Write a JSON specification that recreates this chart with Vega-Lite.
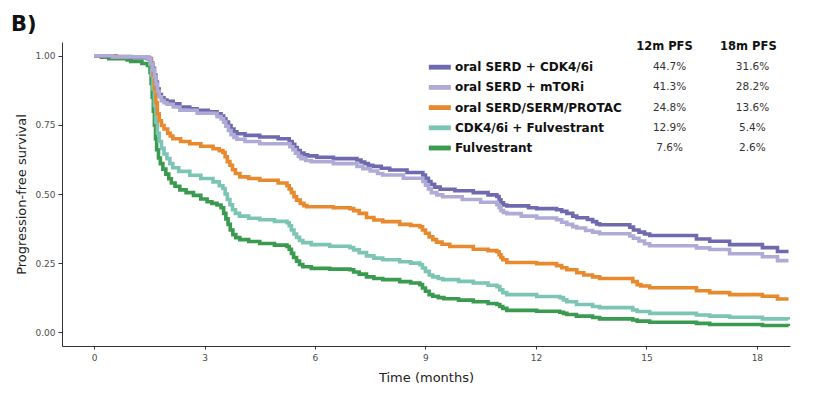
{
  "$schema": "https://vega.github.io/schema/vega-lite/v6.json",
  "autosize": "none",
  "width": 728,
  "height": 304,
  "padding": {"left": 62, "top": 42, "right": 31, "bottom": 49},
  "title": {"text": "B)", "anchor": "start", "frame": "bounds", "fontSize": 21, "fontWeight": "bold", "font": "DejaVu Sans", "color": "#111", "offset": 6, "dx": -5},
  "config": {
    "view": {"stroke": null},
    "font": "DejaVu Sans",
    "axis": {"grid": false, "domainColor": "#333", "tickColor": "#333", "labelColor": "#4d4d4d", "labelFontSize": 9, "titleFontSize": 13, "titleFontWeight": "normal", "titleColor": "#222", "labelFont": "DejaVu Sans", "titleFont": "DejaVu Sans"}
  },
  "datasets": {
    "km": [
      {"g":"Fulvestrant","t":0,"s":1.0},{"g":"Fulvestrant","t":0.2,"s":0.995},{"g":"Fulvestrant","t":0.4,"s":0.99},{"g":"Fulvestrant","t":0.9,"s":0.985},{"g":"Fulvestrant","t":1.0,"s":0.98},{"g":"Fulvestrant","t":1.3,"s":0.972},{"g":"Fulvestrant","t":1.45,"s":0.965},{"g":"Fulvestrant","t":1.52,"s":0.94},{"g":"Fulvestrant","t":1.55,"s":0.9},{"g":"Fulvestrant","t":1.58,"s":0.85},{"g":"Fulvestrant","t":1.61,"s":0.8},{"g":"Fulvestrant","t":1.64,"s":0.75},{"g":"Fulvestrant","t":1.67,"s":0.7},{"g":"Fulvestrant","t":1.7,"s":0.66},{"g":"Fulvestrant","t":1.75,"s":0.63},{"g":"Fulvestrant","t":1.8,"s":0.61},{"g":"Fulvestrant","t":1.87,"s":0.59},{"g":"Fulvestrant","t":1.95,"s":0.572},{"g":"Fulvestrant","t":2.03,"s":0.555},{"g":"Fulvestrant","t":2.1,"s":0.54},{"g":"Fulvestrant","t":2.2,"s":0.528},{"g":"Fulvestrant","t":2.33,"s":0.515},{"g":"Fulvestrant","t":2.5,"s":0.505},{"g":"Fulvestrant","t":2.7,"s":0.495},{"g":"Fulvestrant","t":2.9,"s":0.482},{"g":"Fulvestrant","t":3.07,"s":0.472},{"g":"Fulvestrant","t":3.2,"s":0.466},{"g":"Fulvestrant","t":3.34,"s":0.46},{"g":"Fulvestrant","t":3.45,"s":0.45},{"g":"Fulvestrant","t":3.52,"s":0.43},{"g":"Fulvestrant","t":3.58,"s":0.41},{"g":"Fulvestrant","t":3.64,"s":0.39},{"g":"Fulvestrant","t":3.7,"s":0.37},{"g":"Fulvestrant","t":3.77,"s":0.353},{"g":"Fulvestrant","t":3.85,"s":0.342},{"g":"Fulvestrant","t":3.96,"s":0.335},{"g":"Fulvestrant","t":4.2,"s":0.328},{"g":"Fulvestrant","t":4.5,"s":0.321},{"g":"Fulvestrant","t":4.9,"s":0.315},{"g":"Fulvestrant","t":5.24,"s":0.31},{"g":"Fulvestrant","t":5.3,"s":0.3},{"g":"Fulvestrant","t":5.36,"s":0.285},{"g":"Fulvestrant","t":5.42,"s":0.27},{"g":"Fulvestrant","t":5.5,"s":0.257},{"g":"Fulvestrant","t":5.58,"s":0.245},{"g":"Fulvestrant","t":5.67,"s":0.237},{"g":"Fulvestrant","t":5.9,"s":0.231},{"g":"Fulvestrant","t":6.4,"s":0.228},{"g":"Fulvestrant","t":6.95,"s":0.226},{"g":"Fulvestrant","t":7.05,"s":0.218},{"g":"Fulvestrant","t":7.2,"s":0.21},{"g":"Fulvestrant","t":7.4,"s":0.2},{"g":"Fulvestrant","t":7.6,"s":0.194},{"g":"Fulvestrant","t":7.84,"s":0.19},{"g":"Fulvestrant","t":8.3,"s":0.183},{"g":"Fulvestrant","t":8.6,"s":0.178},{"g":"Fulvestrant","t":8.85,"s":0.172},{"g":"Fulvestrant","t":8.92,"s":0.16},{"g":"Fulvestrant","t":9.0,"s":0.148},{"g":"Fulvestrant","t":9.1,"s":0.136},{"g":"Fulvestrant","t":9.2,"s":0.13},{"g":"Fulvestrant","t":9.35,"s":0.125},{"g":"Fulvestrant","t":9.5,"s":0.121},{"g":"Fulvestrant","t":9.9,"s":0.116},{"g":"Fulvestrant","t":10.3,"s":0.11},{"g":"Fulvestrant","t":10.7,"s":0.104},{"g":"Fulvestrant","t":10.94,"s":0.1},{"g":"Fulvestrant","t":11.02,"s":0.093},{"g":"Fulvestrant","t":11.1,"s":0.086},{"g":"Fulvestrant","t":11.21,"s":0.079},{"g":"Fulvestrant","t":12.02,"s":0.076},{"g":"Fulvestrant","t":12.65,"s":0.072},{"g":"Fulvestrant","t":12.75,"s":0.068},{"g":"Fulvestrant","t":12.84,"s":0.064},{"g":"Fulvestrant","t":13.1,"s":0.058},{"g":"Fulvestrant","t":13.54,"s":0.053},{"g":"Fulvestrant","t":13.73,"s":0.048},{"g":"Fulvestrant","t":14.63,"s":0.044},{"g":"Fulvestrant","t":14.75,"s":0.04},{"g":"Fulvestrant","t":15.09,"s":0.036},{"g":"Fulvestrant","t":16.36,"s":0.032},{"g":"Fulvestrant","t":16.72,"s":0.028},{"g":"Fulvestrant","t":18.15,"s":0.024},{"g":"Fulvestrant","t":18.86,"s":0.022},
      {"g":"CDK4/6i + Fulvestrant","t":0,"s":1.0},{"g":"CDK4/6i + Fulvestrant","t":0.5,"s":0.995},{"g":"CDK4/6i + Fulvestrant","t":1.45,"s":0.99},{"g":"CDK4/6i + Fulvestrant","t":1.52,"s":0.97},{"g":"CDK4/6i + Fulvestrant","t":1.56,"s":0.93},{"g":"CDK4/6i + Fulvestrant","t":1.6,"s":0.88},{"g":"CDK4/6i + Fulvestrant","t":1.64,"s":0.82},{"g":"CDK4/6i + Fulvestrant","t":1.68,"s":0.76},{"g":"CDK4/6i + Fulvestrant","t":1.72,"s":0.72},{"g":"CDK4/6i + Fulvestrant","t":1.77,"s":0.69},{"g":"CDK4/6i + Fulvestrant","t":1.83,"s":0.665},{"g":"CDK4/6i + Fulvestrant","t":1.9,"s":0.645},{"g":"CDK4/6i + Fulvestrant","t":1.98,"s":0.628},{"g":"CDK4/6i + Fulvestrant","t":2.06,"s":0.61},{"g":"CDK4/6i + Fulvestrant","t":2.14,"s":0.595},{"g":"CDK4/6i + Fulvestrant","t":2.3,"s":0.582},{"g":"CDK4/6i + Fulvestrant","t":2.6,"s":0.568},{"g":"CDK4/6i + Fulvestrant","t":2.9,"s":0.556},{"g":"CDK4/6i + Fulvestrant","t":3.23,"s":0.544},{"g":"CDK4/6i + Fulvestrant","t":3.4,"s":0.53},{"g":"CDK4/6i + Fulvestrant","t":3.5,"s":0.52},{"g":"CDK4/6i + Fulvestrant","t":3.56,"s":0.5},{"g":"CDK4/6i + Fulvestrant","t":3.62,"s":0.48},{"g":"CDK4/6i + Fulvestrant","t":3.69,"s":0.461},{"g":"CDK4/6i + Fulvestrant","t":3.76,"s":0.443},{"g":"CDK4/6i + Fulvestrant","t":3.84,"s":0.43},{"g":"CDK4/6i + Fulvestrant","t":3.95,"s":0.42},{"g":"CDK4/6i + Fulvestrant","t":4.2,"s":0.412},{"g":"CDK4/6i + Fulvestrant","t":4.5,"s":0.407},{"g":"CDK4/6i + Fulvestrant","t":4.9,"s":0.401},{"g":"CDK4/6i + Fulvestrant","t":5.24,"s":0.396},{"g":"CDK4/6i + Fulvestrant","t":5.3,"s":0.385},{"g":"CDK4/6i + Fulvestrant","t":5.36,"s":0.37},{"g":"CDK4/6i + Fulvestrant","t":5.43,"s":0.355},{"g":"CDK4/6i + Fulvestrant","t":5.5,"s":0.343},{"g":"CDK4/6i + Fulvestrant","t":5.58,"s":0.332},{"g":"CDK4/6i + Fulvestrant","t":5.67,"s":0.324},{"g":"CDK4/6i + Fulvestrant","t":5.9,"s":0.317},{"g":"CDK4/6i + Fulvestrant","t":6.4,"s":0.311},{"g":"CDK4/6i + Fulvestrant","t":6.95,"s":0.306},{"g":"CDK4/6i + Fulvestrant","t":7.05,"s":0.298},{"g":"CDK4/6i + Fulvestrant","t":7.2,"s":0.288},{"g":"CDK4/6i + Fulvestrant","t":7.4,"s":0.276},{"g":"CDK4/6i + Fulvestrant","t":7.6,"s":0.268},{"g":"CDK4/6i + Fulvestrant","t":7.84,"s":0.262},{"g":"CDK4/6i + Fulvestrant","t":8.3,"s":0.255},{"g":"CDK4/6i + Fulvestrant","t":8.6,"s":0.25},{"g":"CDK4/6i + Fulvestrant","t":8.85,"s":0.244},{"g":"CDK4/6i + Fulvestrant","t":8.92,"s":0.232},{"g":"CDK4/6i + Fulvestrant","t":9.0,"s":0.22},{"g":"CDK4/6i + Fulvestrant","t":9.1,"s":0.207},{"g":"CDK4/6i + Fulvestrant","t":9.2,"s":0.2},{"g":"CDK4/6i + Fulvestrant","t":9.35,"s":0.194},{"g":"CDK4/6i + Fulvestrant","t":9.47,"s":0.19},{"g":"CDK4/6i + Fulvestrant","t":9.9,"s":0.184},{"g":"CDK4/6i + Fulvestrant","t":10.3,"s":0.178},{"g":"CDK4/6i + Fulvestrant","t":10.7,"s":0.17},{"g":"CDK4/6i + Fulvestrant","t":10.94,"s":0.165},{"g":"CDK4/6i + Fulvestrant","t":11.02,"s":0.153},{"g":"CDK4/6i + Fulvestrant","t":11.1,"s":0.143},{"g":"CDK4/6i + Fulvestrant","t":11.21,"s":0.136},{"g":"CDK4/6i + Fulvestrant","t":12.02,"s":0.129},{"g":"CDK4/6i + Fulvestrant","t":12.65,"s":0.125},{"g":"CDK4/6i + Fulvestrant","t":12.75,"s":0.117},{"g":"CDK4/6i + Fulvestrant","t":12.84,"s":0.11},{"g":"CDK4/6i + Fulvestrant","t":13.1,"s":0.1},{"g":"CDK4/6i + Fulvestrant","t":13.54,"s":0.093},{"g":"CDK4/6i + Fulvestrant","t":13.73,"s":0.089},{"g":"CDK4/6i + Fulvestrant","t":14.63,"s":0.08},{"g":"CDK4/6i + Fulvestrant","t":14.75,"s":0.075},{"g":"CDK4/6i + Fulvestrant","t":15.09,"s":0.068},{"g":"CDK4/6i + Fulvestrant","t":16.36,"s":0.062},{"g":"CDK4/6i + Fulvestrant","t":16.72,"s":0.058},{"g":"CDK4/6i + Fulvestrant","t":17.26,"s":0.054},{"g":"CDK4/6i + Fulvestrant","t":18.15,"s":0.048},{"g":"CDK4/6i + Fulvestrant","t":18.86,"s":0.046},
      {"g":"oral SERD/SERM/PROTAC","t":0,"s":1.0},{"g":"oral SERD/SERM/PROTAC","t":0.6,"s":0.995},{"g":"oral SERD/SERM/PROTAC","t":1.5,"s":0.99},{"g":"oral SERD/SERM/PROTAC","t":1.56,"s":0.97},{"g":"oral SERD/SERM/PROTAC","t":1.6,"s":0.93},{"g":"oral SERD/SERM/PROTAC","t":1.64,"s":0.88},{"g":"oral SERD/SERM/PROTAC","t":1.68,"s":0.83},{"g":"oral SERD/SERM/PROTAC","t":1.72,"s":0.79},{"g":"oral SERD/SERM/PROTAC","t":1.77,"s":0.765},{"g":"oral SERD/SERM/PROTAC","t":1.83,"s":0.748},{"g":"oral SERD/SERM/PROTAC","t":1.9,"s":0.735},{"g":"oral SERD/SERM/PROTAC","t":2.0,"s":0.72},{"g":"oral SERD/SERM/PROTAC","t":2.07,"s":0.71},{"g":"oral SERD/SERM/PROTAC","t":2.14,"s":0.7},{"g":"oral SERD/SERM/PROTAC","t":2.35,"s":0.69},{"g":"oral SERD/SERM/PROTAC","t":2.6,"s":0.682},{"g":"oral SERD/SERM/PROTAC","t":2.9,"s":0.673},{"g":"oral SERD/SERM/PROTAC","t":3.23,"s":0.664},{"g":"oral SERD/SERM/PROTAC","t":3.4,"s":0.657},{"g":"oral SERD/SERM/PROTAC","t":3.5,"s":0.65},{"g":"oral SERD/SERM/PROTAC","t":3.56,"s":0.635},{"g":"oral SERD/SERM/PROTAC","t":3.62,"s":0.617},{"g":"oral SERD/SERM/PROTAC","t":3.69,"s":0.604},{"g":"oral SERD/SERM/PROTAC","t":3.76,"s":0.588},{"g":"oral SERD/SERM/PROTAC","t":3.84,"s":0.574},{"g":"oral SERD/SERM/PROTAC","t":3.96,"s":0.562},{"g":"oral SERD/SERM/PROTAC","t":4.2,"s":0.556},{"g":"oral SERD/SERM/PROTAC","t":4.5,"s":0.55},{"g":"oral SERD/SERM/PROTAC","t":5.0,"s":0.54},{"g":"oral SERD/SERM/PROTAC","t":5.24,"s":0.53},{"g":"oral SERD/SERM/PROTAC","t":5.3,"s":0.518},{"g":"oral SERD/SERM/PROTAC","t":5.36,"s":0.505},{"g":"oral SERD/SERM/PROTAC","t":5.43,"s":0.49},{"g":"oral SERD/SERM/PROTAC","t":5.5,"s":0.478},{"g":"oral SERD/SERM/PROTAC","t":5.6,"s":0.466},{"g":"oral SERD/SERM/PROTAC","t":5.7,"s":0.458},{"g":"oral SERD/SERM/PROTAC","t":5.78,"s":0.454},{"g":"oral SERD/SERM/PROTAC","t":6.5,"s":0.45},{"g":"oral SERD/SERM/PROTAC","t":6.95,"s":0.447},{"g":"oral SERD/SERM/PROTAC","t":7.05,"s":0.44},{"g":"oral SERD/SERM/PROTAC","t":7.2,"s":0.43},{"g":"oral SERD/SERM/PROTAC","t":7.4,"s":0.415},{"g":"oral SERD/SERM/PROTAC","t":7.6,"s":0.406},{"g":"oral SERD/SERM/PROTAC","t":7.84,"s":0.4},{"g":"oral SERD/SERM/PROTAC","t":8.3,"s":0.39},{"g":"oral SERD/SERM/PROTAC","t":8.6,"s":0.386},{"g":"oral SERD/SERM/PROTAC","t":8.85,"s":0.381},{"g":"oral SERD/SERM/PROTAC","t":8.92,"s":0.37},{"g":"oral SERD/SERM/PROTAC","t":9.0,"s":0.358},{"g":"oral SERD/SERM/PROTAC","t":9.1,"s":0.345},{"g":"oral SERD/SERM/PROTAC","t":9.2,"s":0.335},{"g":"oral SERD/SERM/PROTAC","t":9.3,"s":0.326},{"g":"oral SERD/SERM/PROTAC","t":9.45,"s":0.318},{"g":"oral SERD/SERM/PROTAC","t":9.66,"s":0.31},{"g":"oral SERD/SERM/PROTAC","t":10.3,"s":0.3},{"g":"oral SERD/SERM/PROTAC","t":10.7,"s":0.295},{"g":"oral SERD/SERM/PROTAC","t":10.94,"s":0.291},{"g":"oral SERD/SERM/PROTAC","t":11.0,"s":0.28},{"g":"oral SERD/SERM/PROTAC","t":11.05,"s":0.27},{"g":"oral SERD/SERM/PROTAC","t":11.1,"s":0.262},{"g":"oral SERD/SERM/PROTAC","t":11.21,"s":0.252},{"g":"oral SERD/SERM/PROTAC","t":12.02,"s":0.248},{"g":"oral SERD/SERM/PROTAC","t":12.56,"s":0.241},{"g":"oral SERD/SERM/PROTAC","t":12.7,"s":0.233},{"g":"oral SERD/SERM/PROTAC","t":12.84,"s":0.226},{"g":"oral SERD/SERM/PROTAC","t":13.11,"s":0.215},{"g":"oral SERD/SERM/PROTAC","t":13.3,"s":0.207},{"g":"oral SERD/SERM/PROTAC","t":13.54,"s":0.2},{"g":"oral SERD/SERM/PROTAC","t":13.73,"s":0.194},{"g":"oral SERD/SERM/PROTAC","t":14.63,"s":0.183},{"g":"oral SERD/SERM/PROTAC","t":14.75,"s":0.172},{"g":"oral SERD/SERM/PROTAC","t":14.85,"s":0.167},{"g":"oral SERD/SERM/PROTAC","t":15.09,"s":0.161},{"g":"oral SERD/SERM/PROTAC","t":16.36,"s":0.15},{"g":"oral SERD/SERM/PROTAC","t":16.72,"s":0.143},{"g":"oral SERD/SERM/PROTAC","t":17.26,"s":0.136},{"g":"oral SERD/SERM/PROTAC","t":18.15,"s":0.13},{"g":"oral SERD/SERM/PROTAC","t":18.56,"s":0.12},{"g":"oral SERD/SERM/PROTAC","t":18.86,"s":0.12},
      {"g":"oral SERD + CDK4/6i","t":0,"s":1.0},{"g":"oral SERD + CDK4/6i","t":0.4,"s":0.997},{"g":"oral SERD + CDK4/6i","t":1.0,"s":0.993},{"g":"oral SERD + CDK4/6i","t":1.48,"s":0.99},{"g":"oral SERD + CDK4/6i","t":1.54,"s":0.975},{"g":"oral SERD + CDK4/6i","t":1.59,"s":0.955},{"g":"oral SERD + CDK4/6i","t":1.64,"s":0.93},{"g":"oral SERD + CDK4/6i","t":1.68,"s":0.905},{"g":"oral SERD + CDK4/6i","t":1.72,"s":0.88},{"g":"oral SERD + CDK4/6i","t":1.77,"s":0.86},{"g":"oral SERD + CDK4/6i","t":1.83,"s":0.848},{"g":"oral SERD + CDK4/6i","t":1.9,"s":0.84},{"g":"oral SERD + CDK4/6i","t":1.98,"s":0.835},{"g":"oral SERD + CDK4/6i","t":2.15,"s":0.826},{"g":"oral SERD + CDK4/6i","t":2.33,"s":0.815},{"g":"oral SERD + CDK4/6i","t":2.6,"s":0.808},{"g":"oral SERD + CDK4/6i","t":2.8,"s":0.803},{"g":"oral SERD + CDK4/6i","t":3.1,"s":0.797},{"g":"oral SERD + CDK4/6i","t":3.34,"s":0.79},{"g":"oral SERD + CDK4/6i","t":3.45,"s":0.782},{"g":"oral SERD + CDK4/6i","t":3.52,"s":0.772},{"g":"oral SERD + CDK4/6i","t":3.58,"s":0.76},{"g":"oral SERD + CDK4/6i","t":3.65,"s":0.748},{"g":"oral SERD + CDK4/6i","t":3.72,"s":0.735},{"g":"oral SERD + CDK4/6i","t":3.8,"s":0.725},{"g":"oral SERD + CDK4/6i","t":3.88,"s":0.718},{"g":"oral SERD + CDK4/6i","t":4.1,"s":0.712},{"g":"oral SERD + CDK4/6i","t":4.5,"s":0.706},{"g":"oral SERD + CDK4/6i","t":5.0,"s":0.7},{"g":"oral SERD + CDK4/6i","t":5.3,"s":0.69},{"g":"oral SERD + CDK4/6i","t":5.38,"s":0.68},{"g":"oral SERD + CDK4/6i","t":5.45,"s":0.668},{"g":"oral SERD + CDK4/6i","t":5.52,"s":0.657},{"g":"oral SERD + CDK4/6i","t":5.6,"s":0.648},{"g":"oral SERD + CDK4/6i","t":5.7,"s":0.642},{"g":"oral SERD + CDK4/6i","t":5.8,"s":0.638},{"g":"oral SERD + CDK4/6i","t":6.05,"s":0.633},{"g":"oral SERD + CDK4/6i","t":6.5,"s":0.628},{"g":"oral SERD + CDK4/6i","t":7.14,"s":0.623},{"g":"oral SERD + CDK4/6i","t":7.25,"s":0.616},{"g":"oral SERD + CDK4/6i","t":7.35,"s":0.61},{"g":"oral SERD + CDK4/6i","t":7.45,"s":0.604},{"g":"oral SERD + CDK4/6i","t":7.57,"s":0.6},{"g":"oral SERD + CDK4/6i","t":7.8,"s":0.593},{"g":"oral SERD + CDK4/6i","t":8.03,"s":0.587},{"g":"oral SERD + CDK4/6i","t":8.5,"s":0.578},{"g":"oral SERD + CDK4/6i","t":8.93,"s":0.569},{"g":"oral SERD + CDK4/6i","t":9.0,"s":0.557},{"g":"oral SERD + CDK4/6i","t":9.08,"s":0.545},{"g":"oral SERD + CDK4/6i","t":9.15,"s":0.535},{"g":"oral SERD + CDK4/6i","t":9.25,"s":0.525},{"g":"oral SERD + CDK4/6i","t":9.4,"s":0.517},{"g":"oral SERD + CDK4/6i","t":9.8,"s":0.512},{"g":"oral SERD + CDK4/6i","t":10.3,"s":0.505},{"g":"oral SERD + CDK4/6i","t":10.7,"s":0.497},{"g":"oral SERD + CDK4/6i","t":10.94,"s":0.491},{"g":"oral SERD + CDK4/6i","t":11.0,"s":0.479},{"g":"oral SERD + CDK4/6i","t":11.05,"s":0.468},{"g":"oral SERD + CDK4/6i","t":11.12,"s":0.46},{"g":"oral SERD + CDK4/6i","t":11.21,"s":0.457},{"g":"oral SERD + CDK4/6i","t":11.8,"s":0.45},{"g":"oral SERD + CDK4/6i","t":12.02,"s":0.447},{"g":"oral SERD + CDK4/6i","t":12.56,"s":0.443},{"g":"oral SERD + CDK4/6i","t":12.7,"s":0.437},{"g":"oral SERD + CDK4/6i","t":12.84,"s":0.43},{"g":"oral SERD + CDK4/6i","t":13.0,"s":0.42},{"g":"oral SERD + CDK4/6i","t":13.11,"s":0.414},{"g":"oral SERD + CDK4/6i","t":13.4,"s":0.408},{"g":"oral SERD + CDK4/6i","t":13.54,"s":0.4},{"g":"oral SERD + CDK4/6i","t":13.65,"s":0.392},{"g":"oral SERD + CDK4/6i","t":13.73,"s":0.389},{"g":"oral SERD + CDK4/6i","t":14.55,"s":0.38},{"g":"oral SERD + CDK4/6i","t":14.65,"s":0.37},{"g":"oral SERD + CDK4/6i","t":14.8,"s":0.362},{"g":"oral SERD + CDK4/6i","t":14.95,"s":0.355},{"g":"oral SERD + CDK4/6i","t":15.09,"s":0.35},{"g":"oral SERD + CDK4/6i","t":16.36,"s":0.337},{"g":"oral SERD + CDK4/6i","t":16.72,"s":0.329},{"g":"oral SERD + CDK4/6i","t":17.26,"s":0.317},{"g":"oral SERD + CDK4/6i","t":18.15,"s":0.306},{"g":"oral SERD + CDK4/6i","t":18.56,"s":0.292},{"g":"oral SERD + CDK4/6i","t":18.86,"s":0.292},
      {"g":"oral SERD + mTORi","t":0,"s":1.0},{"g":"oral SERD + mTORi","t":0.5,"s":0.996},{"g":"oral SERD + mTORi","t":1.48,"s":0.99},{"g":"oral SERD + mTORi","t":1.54,"s":0.972},{"g":"oral SERD + mTORi","t":1.59,"s":0.95},{"g":"oral SERD + mTORi","t":1.64,"s":0.925},{"g":"oral SERD + mTORi","t":1.68,"s":0.898},{"g":"oral SERD + mTORi","t":1.72,"s":0.872},{"g":"oral SERD + mTORi","t":1.77,"s":0.852},{"g":"oral SERD + mTORi","t":1.83,"s":0.838},{"g":"oral SERD + mTORi","t":1.9,"s":0.83},{"g":"oral SERD + mTORi","t":1.98,"s":0.825},{"g":"oral SERD + mTORi","t":2.15,"s":0.815},{"g":"oral SERD + mTORi","t":2.33,"s":0.803},{"g":"oral SERD + mTORi","t":2.8,"s":0.792},{"g":"oral SERD + mTORi","t":3.34,"s":0.78},{"g":"oral SERD + mTORi","t":3.45,"s":0.772},{"g":"oral SERD + mTORi","t":3.52,"s":0.76},{"g":"oral SERD + mTORi","t":3.58,"s":0.745},{"g":"oral SERD + mTORi","t":3.65,"s":0.73},{"g":"oral SERD + mTORi","t":3.72,"s":0.715},{"g":"oral SERD + mTORi","t":3.8,"s":0.705},{"g":"oral SERD + mTORi","t":3.88,"s":0.698},{"g":"oral SERD + mTORi","t":4.1,"s":0.69},{"g":"oral SERD + mTORi","t":4.5,"s":0.682},{"g":"oral SERD + mTORi","t":5.32,"s":0.671},{"g":"oral SERD + mTORi","t":5.4,"s":0.66},{"g":"oral SERD + mTORi","t":5.47,"s":0.648},{"g":"oral SERD + mTORi","t":5.55,"s":0.636},{"g":"oral SERD + mTORi","t":5.62,"s":0.628},{"g":"oral SERD + mTORi","t":5.75,"s":0.621},{"g":"oral SERD + mTORi","t":5.9,"s":0.617},{"g":"oral SERD + mTORi","t":6.5,"s":0.61},{"g":"oral SERD + mTORi","t":7.14,"s":0.6},{"g":"oral SERD + mTORi","t":7.3,"s":0.592},{"g":"oral SERD + mTORi","t":7.5,"s":0.583},{"g":"oral SERD + mTORi","t":7.7,"s":0.574},{"g":"oral SERD + mTORi","t":7.84,"s":0.569},{"g":"oral SERD + mTORi","t":8.4,"s":0.557},{"g":"oral SERD + mTORi","t":8.93,"s":0.545},{"g":"oral SERD + mTORi","t":9.0,"s":0.532},{"g":"oral SERD + mTORi","t":9.08,"s":0.518},{"g":"oral SERD + mTORi","t":9.16,"s":0.505},{"g":"oral SERD + mTORi","t":9.31,"s":0.497},{"g":"oral SERD + mTORi","t":9.47,"s":0.49},{"g":"oral SERD + mTORi","t":10.0,"s":0.48},{"g":"oral SERD + mTORi","t":10.5,"s":0.47},{"g":"oral SERD + mTORi","t":10.94,"s":0.461},{"g":"oral SERD + mTORi","t":11.0,"s":0.45},{"g":"oral SERD + mTORi","t":11.05,"s":0.44},{"g":"oral SERD + mTORi","t":11.12,"s":0.433},{"g":"oral SERD + mTORi","t":11.21,"s":0.429},{"g":"oral SERD + mTORi","t":11.6,"s":0.42},{"g":"oral SERD + mTORi","t":12.02,"s":0.413},{"g":"oral SERD + mTORi","t":12.56,"s":0.407},{"g":"oral SERD + mTORi","t":12.7,"s":0.398},{"g":"oral SERD + mTORi","t":12.84,"s":0.39},{"g":"oral SERD + mTORi","t":13.0,"s":0.382},{"g":"oral SERD + mTORi","t":13.11,"s":0.377},{"g":"oral SERD + mTORi","t":13.35,"s":0.368},{"g":"oral SERD + mTORi","t":13.54,"s":0.362},{"g":"oral SERD + mTORi","t":13.73,"s":0.356},{"g":"oral SERD + mTORi","t":14.55,"s":0.348},{"g":"oral SERD + mTORi","t":14.65,"s":0.34},{"g":"oral SERD + mTORi","t":14.8,"s":0.33},{"g":"oral SERD + mTORi","t":14.95,"s":0.32},{"g":"oral SERD + mTORi","t":15.09,"s":0.313},{"g":"oral SERD + mTORi","t":16.36,"s":0.305},{"g":"oral SERD + mTORi","t":16.72,"s":0.299},{"g":"oral SERD + mTORi","t":17.26,"s":0.284},{"g":"oral SERD + mTORi","t":18.15,"s":0.273},{"g":"oral SERD + mTORi","t":18.56,"s":0.259},{"g":"oral SERD + mTORi","t":18.86,"s":0.259}
    ],
    "table": [
      {"g":"oral SERD + CDK4/6i","p12":"44.7%","p18":"31.6%"},
      {"g":"oral SERD + mTORi","p12":"41.3%","p18":"28.2%"},
      {"g":"oral SERD/SERM/PROTAC","p12":"24.8%","p18":"13.6%"},
      {"g":"CDK4/6i + Fulvestrant","p12":"12.9%","p18":"5.4%"},
      {"g":"Fulvestrant","p12":"7.6%","p18":"2.6%"}
    ],
    "header": [{"h12":"12m PFS","h18":"18m PFS"}]
  },
  "resolve": {"scale": {"y": "independent"}},
  "layer": [
    {
      "data": {"name": "km"},
      "mark": {"type": "line", "interpolate": "step-after", "strokeWidth": 3.6, "clip": true},
      "encoding": {
        "x": {"field": "t", "type": "quantitative", "scale": {"domain": [-0.87, 18.9], "nice": false, "zero": false},
              "axis": {"values": [0,3,6,9,12,15,18], "title": "Time  (months)", "tickSize": 3, "labelPadding": 4, "titlePadding": 9}},
        "y": {"field": "s", "type": "quantitative", "scale": {"domain": [-0.05, 1.05], "nice": false, "zero": false},
              "axis": {"values": [0,0.25,0.5,0.75,1], "format": ".2f", "title": "Progression-free  survival", "tickSize": 4, "labelPadding": 3, "titlePadding": 6}},
        "color": {"field": "g", "type": "nominal", "legend": null,
                  "scale": {"domain": ["oral SERD + CDK4/6i","oral SERD + mTORi","oral SERD/SERM/PROTAC","CDK4/6i + Fulvestrant","Fulvestrant"],
                            "range": ["#6f6ab0","#b0abd6","#e8892e","#7cc5b5","#3a9b50"]}}
      }
    },
    {
      "data": {"name": "table"},
      "encoding": {
        "y": {"field": "g", "type": "nominal", "axis": null,
              "scale": {"type": "point", "domain": ["hdr","oral SERD + CDK4/6i","oral SERD + mTORi","oral SERD/SERM/PROTAC","CDK4/6i + Fulvestrant","Fulvestrant"], "range": [5, 106], "padding": 0}}
      },
      "layer": [
        {
          "mark": {"type": "point", "shape": "M-1,-0.22H1V0.22H-1Z", "size": 484, "filled": true, "opacity": 1, "strokeWidth": 0},
          "encoding": {"x": {"datum": 9.39}, "color": {"field": "g", "type": "nominal", "legend": null}}
        },
        {
          "mark": {"type": "text", "align": "left", "baseline": "middle", "fontWeight": "bold", "fontSize": 12, "font": "DejaVu Sans", "color": "#111"},
          "encoding": {"x": {"datum": 9.8}, "text": {"field": "g"}}
        },
        {
          "mark": {"type": "text", "align": "center", "baseline": "middle", "fontSize": 10.5, "font": "DejaVu Sans", "color": "#333"},
          "encoding": {"x": {"datum": 15.63}, "text": {"field": "p12"}}
        },
        {
          "mark": {"type": "text", "align": "center", "baseline": "middle", "fontSize": 10.5, "font": "DejaVu Sans", "color": "#333"},
          "encoding": {"x": {"datum": 17.88}, "text": {"field": "p18"}}
        },
        {
          "data": {"name": "header"},
          "mark": {"type": "text", "align": "center", "baseline": "middle", "fontWeight": "bold", "fontSize": 11.5, "font": "DejaVu Sans", "color": "#111"},
          "encoding": {"x": {"datum": 15.49}, "y": {"datum": "hdr", "type": "nominal"}, "text": {"field": "h12"}}
        },
        {
          "data": {"name": "header"},
          "mark": {"type": "text", "align": "center", "baseline": "middle", "fontWeight": "bold", "fontSize": 11.5, "font": "DejaVu Sans", "color": "#111"},
          "encoding": {"x": {"datum": 17.77}, "y": {"datum": "hdr", "type": "nominal"}, "text": {"field": "h18"}}
        }
      ]
    }
  ]
}
